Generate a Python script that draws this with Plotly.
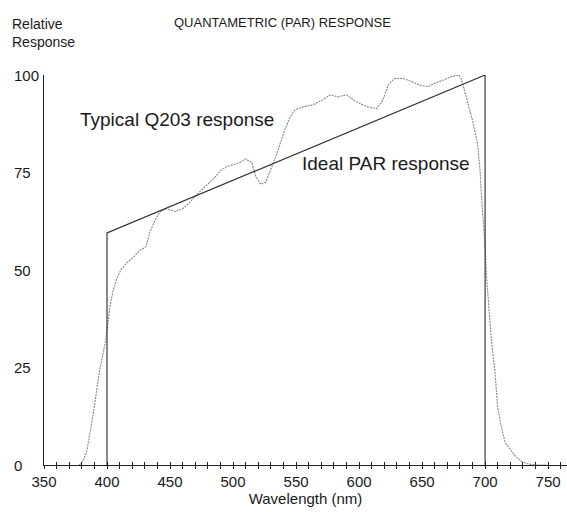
import plotly.graph_objects as go

q203_wl = [378, 381, 384, 389, 394, 399, 402, 405, 408, 411, 415, 421, 426, 431, 434, 438, 442, 447,
           454, 460, 466, 470, 475, 480, 485, 490, 495, 500, 505, 510, 515, 518, 522, 526, 530, 535,
           540, 545, 549, 556, 563, 571, 577, 583, 590, 598, 606, 614, 619, 623, 628, 635, 642, 648,
           655, 660, 667, 673, 679, 681, 685, 690, 694, 696, 697, 698, 699, 700, 701, 703, 705, 708,
           710, 713, 716, 720, 724, 729, 735, 742, 749]
q203_val = [0, 1, 3.6, 13, 24, 32, 40, 45, 48, 50, 51.6, 53.3, 55, 56, 59.7, 62.7, 64.9, 65.7,
            65, 65.7, 67.4, 69, 70.5, 72, 73.5, 75.5, 76.5, 77, 77.5, 78.5, 77.5, 74, 72, 72.5, 76, 80,
            85, 89, 91, 91.9, 92.3, 93.6, 94.9, 94.4, 94.9, 93.1, 91.9, 91.4, 93.6, 97.4, 99.1, 99.1, 98.3, 97.4,
            97, 97.9, 98.7, 99.6, 100, 99.1, 94.4, 88.4, 82.4, 75.6, 69.6, 65.3, 61, 56, 49, 40, 32, 23.3,
            14.7, 9.6, 5.7, 4, 2.3, 0.9, 0.2, 0, 0]

# Ideal PAR response
ideal_wl = [400, 400, 700, 700]
ideal_val = [0, 59.5, 100, 0]

y_ticks = [0, 25, 50, 75, 100]
x_ticks = [350, 400, 450, 500, 550, 600, 650, 700, 750]

FONT = "Liberation Sans"
TXT = "#1a1a1a"

fig = go.Figure()
fig.add_trace(go.Scatter(x=q203_wl, y=q203_val, mode="lines",
                         line=dict(color="#858585", width=1.1, dash="2px,1px"),
                         showlegend=False, hoverinfo="skip"))
fig.add_trace(go.Scatter(x=ideal_wl, y=ideal_val, mode="lines",
                         line=dict(color="#2a2a2a", width=1.1),
                         showlegend=False, hoverinfo="skip"))
# overlay axis for inward-facing tick halves
fig.add_trace(go.Scatter(x=[360], y=[-10], xaxis="x2", mode="markers",
                         marker=dict(opacity=0), showlegend=False, hoverinfo="skip"))

fig.update_layout(
    width=567, height=512,
    margin=dict(l=44, r=0, t=75, b=47),
    paper_bgcolor="white", plot_bgcolor="white",
    font=dict(family=FONT, size=14, color=TXT),
    xaxis=dict(range=[350, 765], tickvals=x_ticks, ticks="outside", ticklen=3, tickwidth=1,
               tickcolor="#222", showline=True, linecolor="#222", linewidth=1,
               showgrid=False, zeroline=False, automargin=False,
               minor=dict(ticks="outside", dtick=10, tick0=350, ticklen=3, tickcolor="#222"),
               tickfont=dict(size=15, family=FONT, color=TXT),
               title=dict(text="Wavelength (nm)", font=dict(size=15, family=FONT, color=TXT), standoff=4)),
    xaxis2=dict(range=[350, 765], overlaying="x", anchor="y", side="bottom",
                ticks="inside", dtick=10, tick0=350, ticklen=3, tickcolor="#222",
                showticklabels=False, showgrid=False, zeroline=False, showline=False),
    yaxis=dict(range=[0, 100], showticklabels=False, ticks="", showline=True, automargin=False,
               linecolor="#222", linewidth=1, showgrid=False, zeroline=False),
)

for v in y_ticks:
    fig.add_annotation(x=-0.0612, xref="paper", y=v, yref="y", text=str(v), showarrow=False,
                       xanchor="left", yanchor="middle", font=dict(size=15, family=FONT, color=TXT))

# paper coords relative to plot area: convert pixels
def px_x(px):
    return (px - 44) / 523
def px_y(py):
    return (465 - py) / 390

fig.add_annotation(x=px_x(10), y=px_y(32.7), xref="paper", yref="paper",
                   text="Relative<br>Response", showarrow=False, xanchor="left", yanchor="middle",
                   align="left", font=dict(size=14, family=FONT, color=TXT))
fig.add_annotation(x=px_x(172), y=px_y(22.7), xref="paper", yref="paper",
                   text="QUANTAMETRIC (PAR) RESPONSE", showarrow=False, xanchor="left", yanchor="middle",
                   font=dict(size=13, family=FONT, color=TXT))
fig.add_annotation(x=px_x(78), y=px_y(119), xref="paper", yref="paper",
                   text="Typical Q203 response", showarrow=False, xanchor="left", yanchor="middle",
                   font=dict(size=19, family=FONT, color=TXT))
fig.add_annotation(x=px_x(300), y=px_y(163), xref="paper", yref="paper",
                   text="Ideal PAR response", showarrow=False, xanchor="left", yanchor="middle",
                   font=dict(size=19, family=FONT, color=TXT))

fig.write_html("out.html", config={"displayModeBar": False},
               post_script="document.body.style.margin='0px';document.body.style.overflow='hidden';")
